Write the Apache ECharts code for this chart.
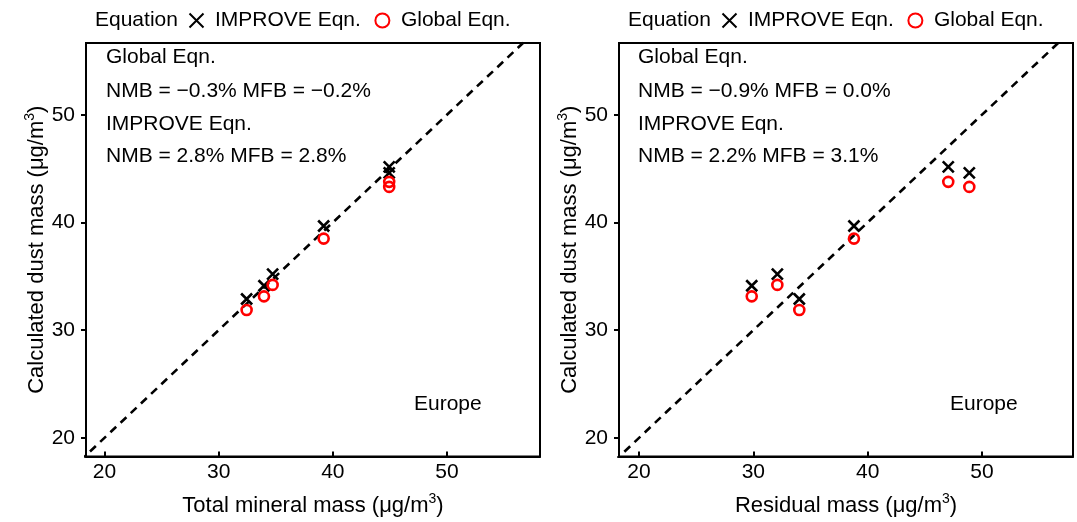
<!DOCTYPE html>
<html>
<head>
<meta charset="utf-8">
<script src="https://cdn.jsdelivr.net/npm/echarts@6/dist/echarts.min.js"></script>
<style>
  html, body { margin: 0; padding: 0; background: #fff; }
  #chart { width: 1077px; height: 522px; }
</style>
</head>
<body>
<div id="chart"></div>
<script>
// measured values, 6 sites
const totalMineral = [32.45, 33.97, 34.73, 39.2, 44.94, 44.94]
const residualMass = [34.02, 29.86, 32.1, 38.8, 47.05, 48.89]
const improveCalc = [32.89, 34.12, 35.2, 39.67, 45.16, 44.6]
const globalCalc = [31.87, 33.14, 34.2, 38.5, 43.77, 43.3]
const tickValues = [20, 30, 40, 50]
const oneToOne = [[0, 0], [80, 80]]

const font = 'Liberation Sans'
const crossPath = 'path://M0,0L10,10M10,0L0,10'

const pairs = (xs, ys) => xs.map((x, i) => [x, ys[i]])

const titleRich = {
  t: { fontSize: 22, fontFamily: font, color: '#000' },
  s: { fontSize: 14, fontFamily: font, color: '#000', padding: [0, 0, 13, 0] }
}

const xAxisOf = (idx, min, max, title) => ({
  gridIndex: idx,
  type: 'value',
  min: min,
  max: max,
  name: '{t|' + title + ' (μg/m}{s|3}{t|)}',
  nameLocation: 'middle',
  nameGap: 36,
  nameTextStyle: { rich: titleRich },
  axisLine: { show: true, lineStyle: { color: '#000', width: 2 } },
  axisTick: { show: true, inside: true, length: 5, lineStyle: { color: '#000', width: 2 }, customValues: tickValues },
  axisLabel: { color: '#000', fontSize: 21, fontFamily: font, margin: 5, customValues: tickValues },
  splitLine: { show: false }
})

const yAxisOf = (idx) => ({
  gridIndex: idx,
  type: 'value',
  min: 18.27,
  max: 56.66,
  name: '{t|Calculated dust mass (μg/m}{s|3}{t|)}',
  nameLocation: 'middle',
  nameGap: 34,
  nameTextStyle: { rich: titleRich },
  axisLine: { show: true, lineStyle: { color: '#000', width: 2 } },
  axisTick: { show: true, inside: false, length: 5, lineStyle: { color: '#000', width: 2 }, customValues: tickValues },
  axisLabel: { color: '#000', fontSize: 21, fontFamily: font, margin: 11, customValues: tickValues },
  splitLine: { show: false }
})

const seriesOf = (idx, xs) => [
  {
    type: 'line',
    xAxisIndex: idx,
    yAxisIndex: idx,
    data: oneToOne,
    symbol: 'none',
    clip: true,
    silent: true,
    lineStyle: { color: '#000', width: 2.6, type: [8, 6] },
    z: 1
  },
  {
    name: 'IMPROVE Eqn.',
    type: 'scatter',
    xAxisIndex: idx,
    yAxisIndex: idx,
    data: pairs(xs, improveCalc),
    symbol: crossPath,
    symbolSize: 11,
    itemStyle: { color: 'none', borderColor: '#000', borderWidth: 2.6, opacity: 1 },
    z: 3
  },
  {
    name: 'Global Eqn.',
    type: 'scatter',
    xAxisIndex: idx,
    yAxisIndex: idx,
    data: pairs(xs, globalCalc),
    symbol: 'circle',
    symbolSize: 10,
    itemStyle: { color: 'none', borderColor: '#ff0000', borderWidth: 2.6, opacity: 1 },
    z: 4
  }
]

const legendOf = (left) => ({
  left: left,
  top: 5,
  data: ['IMPROVE Eqn.', 'Global Eqn.'],
  itemWidth: 15,
  itemHeight: 14,
  itemGap: 12,
  selectedMode: false,
  textStyle: { color: '#000', fontSize: 21, fontFamily: font, padding: [0, 0, 0, 6] }
})

const textAt = (left, top, text) => ({
  type: 'text',
  left: left,
  top: top,
  style: { text: text, fill: '#000', font: '21px "' + font + '"' }
})

const myChart = echarts.init(document.getElementById('chart'))
myChart.setOption({
  animation: false,
  backgroundColor: '#fff',
  grid: [
    { left: 86, right: 537, top: 43, bottom: 64, show: true, borderColor: '#000', borderWidth: 2 },
    { left: 619, right: 4, top: 43, bottom: 64, show: true, borderColor: '#000', borderWidth: 2 }
  ],
  xAxis: [
    xAxisOf(0, 18.38, 58.15, 'Total mineral mass'),
    xAxisOf(1, 18.25, 57.96, 'Residual mass')
  ],
  yAxis: [yAxisOf(0), yAxisOf(1)],
  legend: [legendOf(182), legendOf(715)],
  graphic: [
    textAt(95, 10, 'Equation'),
    textAt(628, 10, 'Equation'),
    textAt(106, 47, 'Global Eqn.'),
    textAt(106, 81, 'NMB = −0.3% MFB = −0.2%'),
    textAt(106, 114, 'IMPROVE Eqn.'),
    textAt(106, 146, 'NMB = 2.8% MFB = 2.8%'),
    textAt(414, 394, 'Europe'),
    textAt(638, 47, 'Global Eqn.'),
    textAt(638, 81, 'NMB = −0.9% MFB = 0.0%'),
    textAt(638, 114, 'IMPROVE Eqn.'),
    textAt(638, 146, 'NMB = 2.2% MFB = 3.1%'),
    textAt(950, 394, 'Europe')
  ],
  series: [...seriesOf(0, totalMineral), ...seriesOf(1, residualMass)]
})
</script>
</body>
</html>
